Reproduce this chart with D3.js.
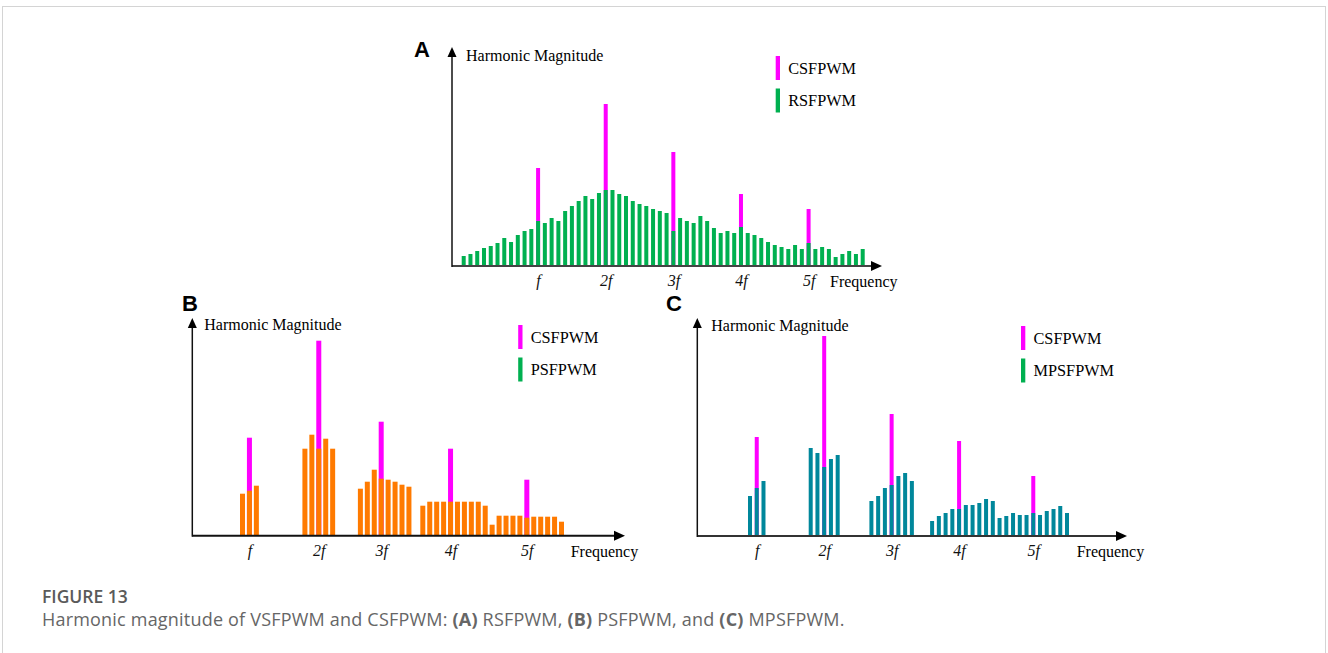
<!DOCTYPE html>
<html>
<head>
<meta charset="utf-8">
<script src="https://cdn.jsdelivr.net/npm/d3@7"></script>
<style>
  body { margin: 0; background: #fff; }
  svg text { font-family: "Liberation Serif", "Times New Roman", serif; }
  svg text.sans { font-family: "Open Sans", "Liberation Sans", sans-serif; }
  svg text.letter { font-family: "Liberation Sans", Arial, sans-serif; font-weight: bold; }
</style>
</head>
<body>
<svg id="fig" width="1328" height="653"></svg>
<script>
// harmonic tick labels, shared by the three panels
const harmonicLabels = ['f', '2f', '3f', '4f', '5f'];

// (A) RSFPWM: one bar per slot, slots 0..59
const aValues = [10, 12, 15, 18, 20, 23, 28, 24, 31, 35, 37, 45, 43, 48, 45, 55, 60, 65, 70, 67,
                 73, 76, 76, 72, 70, 65, 62, 60, 57, 55, 53, 35, 48, 45, 43, 50, 45, 38, 33, 35,
                 33, 39, 33, 31, 28, 24, 21, 19, 17, 21, 17, 23, 17, 19, 17, 9, 12, 15, 12, 17];
const aPeakSlots = [11, 21, 31, 41, 51];
const aPeakValues = [98, 162, 114, 72, 57];

// (B) PSFPWM
const bSlots = [0, 1, 2, 9, 10, 11, 12, 13, 17, 18, 19, 20, 21, 22, 23, 24,
                26, 27, 28, 29, 30, 31, 32, 33, 34, 35, 36, 37, 38, 39, 40, 41, 42, 43, 44, 45, 46];
const bValues = [42, 45, 50, 87, 101, 87, 97, 87, 47, 54, 66, 57, 56, 54, 51, 49,
                 30, 34, 34, 34, 34, 34, 34, 34, 34, 30, 11, 20, 20, 20, 20, 18, 19, 19, 19, 19, 14];
const bPeakSlots = [1, 11, 20, 30, 41];
const bPeakValues = [98, 195, 114, 87, 56];

// (C) MPSFPWM
const cSlots = [0, 1, 2, 9, 10, 11, 12, 13, 18, 19, 20, 21, 22, 23, 24,
                27, 28, 29, 30, 31, 32, 33, 34, 35, 36, 37, 38, 39, 40, 41, 42, 43, 44, 45, 46, 47];
const cValues = [40, 48, 55, 88, 83, 69, 77, 81, 35, 40, 48, 51, 60, 63, 55,
                 15, 20, 23, 27, 27, 31, 31, 33, 37, 35, 18, 20, 23, 21, 21, 23, 21, 25, 27, 30, 23];
const cPeakSlots = [1, 11, 21, 31, 42];
const cPeakValues = [99, 200, 122, 95, 60];

const MAGENTA = '#ff00ff';
const GREEN = '#00b050';

const svg = d3.select('#fig');

// thin frame round the figure
svg.append('rect')
  .attr('x', 2.5).attr('y', 6.5)
  .attr('width', 1323).attr('height', 700)
  .attr('fill', 'none')
  .attr('stroke', '#d4d4d4');

function drawPanel(p) {
  const g = svg.append('g');
  const x = d3.scaleLinear().domain(p.slotDomain).range(p.slotRange);
  const y = d3.scaleLinear().domain([0, 100]).range([p.y0, p.y0 - 100]);
  const peaks = p.peakSlots.map((s, i) => [s, p.peakValues[i]]);
  const bars = p.slots.map((s, i) => [s, p.values[i]]);

  // CSFPWM peaks go behind the coloured bars
  g.append('g')
    .selectAll('rect')
    .data(peaks)
    .enter().append('rect')
    .attr('x', d => x(d[0]) - p.barW / 2)
    .attr('width', p.barW)
    .attr('y', d => y(d[1]))
    .attr('height', d => y(0) - y(d[1]))
    .attr('fill', MAGENTA);
  g.append('g')
    .selectAll('rect')
    .data(bars)
    .enter().append('rect')
    .attr('x', d => x(d[0]) - p.barW / 2)
    .attr('width', p.barW)
    .attr('y', d => y(d[1]))
    .attr('height', d => y(0) - y(d[1]))
    .attr('fill', p.color);

  // harmonic labels
  const xAxis = d3.axisBottom(x)
    .tickValues(p.ticks)
    .tickFormat((d, i) => harmonicLabels[i])
    .tickSize(0)
    .tickPadding(9);
  const ax = g.append('g')
    .attr('transform', `translate(0,${p.y0})`)
    .call(xAxis);
  ax.select('.domain').remove();
  ax.attr('font-size', 16);
  ax.selectAll('text').attr('font-style', 'italic').attr('fill', '#111');

  // axes with arrow heads
  g.append('line')
    .attr('x1', p.x0).attr('y1', p.y0)
    .attr('x2', p.xEnd - 8).attr('y2', p.y0)
    .attr('stroke', p.axisColor).attr('stroke-width', 2);
  g.append('path')
    .attr('d', `M${p.xEnd},${p.y0}L${p.xEnd - 11},${p.y0 - 5}L${p.xEnd - 11},${p.y0 + 5}Z`)
    .attr('fill', '#000');
  g.append('line')
    .attr('x1', p.x0).attr('y1', p.y0 + 1)
    .attr('x2', p.x0).attr('y2', p.yEnd + 8)
    .attr('stroke', '#111').attr('stroke-width', 1.5);
  g.append('path')
    .attr('d', `M${p.x0},${p.yEnd}L${p.x0 - 4.5},${p.yEnd + 10}L${p.x0 + 4.5},${p.yEnd + 10}Z`)
    .attr('fill', '#000');

  g.append('text')
    .attr('x', p.x0 + p.titleDx).attr('y', p.titleY)
    .attr('font-size', 16)
    .text('Harmonic Magnitude');
  g.append('text')
    .attr('x', p.freqX).attr('y', p.y0 + 21)
    .attr('font-size', 16)
    .text('Frequency');

  // legend
  const legend = g.append('g')
    .selectAll('g')
    .data([['CSFPWM', MAGENTA], [p.name, GREEN]])
    .enter().append('g')
    .attr('transform', (_, i) => `translate(${p.legendX},${p.legendY + i * 32.5})`);
  legend.append('rect')
    .attr('width', 4.3).attr('height', 24)
    .attr('fill', d => d[1]);
  legend.append('text')
    .attr('x', 12.5).attr('y', 17.5)
    .attr('font-size', 16.3)
    .text(d => d[0]);

  g.append('text')
    .attr('class', 'letter')
    .attr('x', p.letterX).attr('y', p.letterY)
    .attr('font-size', 22)
    .text(p.letter);
}

drawPanel({
  letter: 'A', letterX: 414, letterY: 57,
  name: 'RSFPWM', color: GREEN, axisColor: '#444',
  slots: aValues.map((_, i) => i), values: aValues,
  peakSlots: aPeakSlots, peakValues: aPeakValues, ticks: aPeakSlots,
  slotDomain: [0, 59], slotRange: [463.7, 862.7], barW: 4,
  x0: 452, y0: 266, xEnd: 882, yEnd: 47,
  titleDx: 14, titleY: 61, freqX: 830,
  legendX: 775.7, legendY: 56
});

drawPanel({
  letter: 'B', letterX: 182, letterY: 311,
  name: 'PSFPWM', color: '#ff7a00', axisColor: '#111',
  slots: bSlots, values: bValues,
  peakSlots: bPeakSlots, peakValues: bPeakValues, ticks: bPeakSlots,
  slotDomain: [0, 46], slotRange: [242.5, 561.5], barW: 5,
  x0: 192.3, y0: 535.7, xEnd: 625, yEnd: 318,
  titleDx: 12, titleY: 330, freqX: 570.7,
  legendX: 518.2, legendY: 325
});

drawPanel({
  letter: 'C', letterX: 666, letterY: 311,
  name: 'MPSFPWM', color: '#00879b', axisColor: '#333',
  slots: cSlots, values: cValues,
  peakSlots: cPeakSlots, peakValues: cPeakValues, ticks: cPeakSlots,
  slotDomain: [0, 47], slotRange: [750, 1067], barW: 4,
  x0: 697.3, y0: 536, xEnd: 1127, yEnd: 318,
  titleDx: 14, titleY: 331, freqX: 1076.7,
  legendX: 1021, legendY: 326
});

// caption
svg.append('text')
  .attr('class', 'sans')
  .attr('x', 42).attr('y', 603)
  .attr('font-weight', 600)
  .attr('font-size', 17.5)
  .attr('fill', '#5a5a5a')
  .text('FIGURE 13');
const caption = svg.append('text')
  .attr('class', 'sans')
  .attr('x', 42).attr('y', 626)
  .attr('font-size', 18)
  .attr('letter-spacing', 0.2)
  .attr('fill', '#666');
const captionParts = [
  ['Harmonic magnitude of VSFPWM and CSFPWM: ', false], ['(A)', true], [' RSFPWM, ', false],
  ['(B)', true], [' PSFPWM, and ', false], ['(C)', true], [' MPSFPWM.', false]
];
captionParts.forEach(([t, bold]) => {
  caption.append('tspan').attr('font-weight', bold ? 700 : 400).text(t);
});
</script>
</body>
</html>
